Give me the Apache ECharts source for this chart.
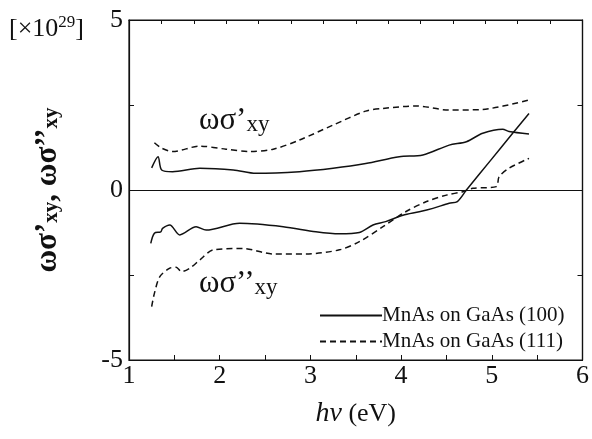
<!DOCTYPE html>
<html>
<head>
<meta charset="utf-8">
<script src="https://cdn.jsdelivr.net/npm/echarts@6/dist/echarts.min.js"></script>
<style>
  html, body { margin: 0; padding: 0; background: #fff; }
  #chart { width: 592px; height: 439px; }
</style>
</head>
<body>
<div id="chart"></div>
<script>
// photon energy (eV) and values (x10^29)
const ePrime100 = [1.25, 1.32, 1.36, 1.48, 1.78, 2.15, 2.40, 2.88, 3.25, 3.61, 3.98, 4.24, 4.53, 4.72, 4.90, 5.12, 5.19, 5.41];
const vPrime100 = [0.65, 0.98, 0.59, 0.54, 0.64, 0.59, 0.49, 0.54, 0.64, 0.78, 0.98, 1.03, 1.32, 1.42, 1.67, 1.79, 1.72, 1.65];

const ePrime111 = [1.28, 1.36, 1.48, 1.78, 2.07, 2.33, 2.59, 2.88, 3.25, 3.61, 3.80, 4.17, 4.53, 4.90, 5.41];
const vPrime111 = [1.39, 1.23, 1.13, 1.29, 1.20, 1.13, 1.20, 1.47, 1.91, 2.32, 2.40, 2.47, 2.35, 2.37, 2.65];

const eDouble100 = [1.24, 1.28, 1.35, 1.37, 1.45, 1.56, 1.74, 1.85, 2.22, 2.70, 3.06, 3.32, 3.54, 3.69, 3.83, 4.02, 4.20, 4.35, 4.53, 4.62, 4.72, 4.98, 5.23, 5.41];
const vDouble100 = [-1.57, -1.27, -1.23, -1.13, -1.03, -1.32, -1.08, -1.18, -0.98, -1.08, -1.23, -1.29, -1.25, -1.03, -0.93, -0.74, -0.64, -0.54, -0.39, -0.34, 0.00, 0.85, 1.67, 2.25];

const eDouble111 = [1.25, 1.28, 1.34, 1.45, 1.52, 1.58, 1.67, 1.78, 1.93, 2.26, 2.59, 2.95, 3.32, 3.54, 3.80, 4.05, 4.28, 4.50, 4.68, 4.79, 5.05, 5.08, 5.19, 5.41];
const vDouble111 = [-3.43, -3.04, -2.55, -2.30, -2.27, -2.40, -2.30, -2.06, -1.76, -1.72, -1.88, -1.88, -1.76, -1.52, -1.08, -0.64, -0.34, -0.15, -0.05, 0.05, 0.10, 0.39, 0.64, 0.93];

const xTickLabels = ['1', '2', '3', '4', '5', '6'];
const yTickLabels = ['-5', '0', '5'];
const sampleNames = ['MnAs on GaAs (100)', 'MnAs on GaAs (111)'];

function zip(xs, ys) {
  return xs.map((x, i) => [x, ys[i]]);
}

const serif = '"Liberation Serif", "DejaVu Serif", serif';
const chart = echarts.init(document.getElementById('chart'));

function curve(name, data, dashed, withZero) {
  const s = {
    name: name,
    type: 'line',
    data: data,
    symbol: 'none',
    smooth: 0.3,
    xAxisIndex: 0,
    yAxisIndex: 0,
    lineStyle: { color: '#111', width: 1.5, type: dashed ? [6, 4] : 'solid' },
    itemStyle: { color: '#111' },
    z: 3
  };
  if (withZero) {
    s.markLine = {
      silent: true,
      symbol: 'none',
      label: { show: false },
      lineStyle: { color: '#111', width: 1, type: 'solid' },
      data: [{ yAxis: 0 }]
    };
  }
  return s;
}

function frameLine() {
  return { show: true, onZero: false, lineStyle: { color: '#111', width: 1.2 } };
}

chart.setOption({
  animation: false,
  backgroundColor: '#fff',
  grid: { left: 129, right: 9, top: 20, bottom: 79, show: true, borderColor: '#111', borderWidth: 1.2, backgroundColor: 'transparent' },
  xAxis: [{
    type: 'value',
    min: 1, max: 6, interval: 0.5,
    position: 'bottom',
    name: '{i|hν}{n| (eV)}',
    nameLocation: 'middle',
    nameGap: 40,
    nameTextStyle: {
      rich: {
        i: { fontFamily: serif, fontStyle: 'italic', fontSize: 28, color: '#111' },
        n: { fontFamily: serif, fontSize: 26, color: '#111' }
      }
    },
    axisLine: frameLine(),
    axisTick: { show: true, inside: true, length: 5, lineStyle: { color: '#111' } },
    axisLabel: {
      fontFamily: serif, fontSize: 26, color: '#111', margin: 3,
      formatter: v => xTickLabels.includes(String(v)) ? String(v) : ''
    },
    splitLine: { show: false }
  }, {
    type: 'value',
    min: 0, max: 14, interval: 1,
    position: 'top',
    axisLine: frameLine(),
    axisTick: { show: true, inside: true, length: 4, lineStyle: { color: '#111' } },
    axisLabel: { show: false },
    splitLine: { show: false }
  }],
  yAxis: [{
    type: 'value',
    min: -5, max: 5, interval: 2.5,
    position: 'left',
    name: '{g|ωσ’}{s|xy}{g|, ωσ’’}{s|xy}',
    nameLocation: 'middle',
    nameRotate: 90,
    nameGap: 66,
    nameTextStyle: {
      rich: {
        g: { fontFamily: serif, fontSize: 31, color: '#111', fontWeight: 'bold' },
        s: { fontFamily: serif, fontSize: 21, color: '#111', fontWeight: 'bold', padding: [9, 0, 0, 0] }
      }
    },
    axisLine: frameLine(),
    axisTick: { show: true, inside: true, length: 5, lineStyle: { color: '#111' } },
    axisLabel: {
      fontFamily: serif, fontSize: 26, color: '#111', margin: 6,
      formatter: v => yTickLabels.includes(String(v)) ? String(v) : ''
    },
    splitLine: { show: false }
  }, {
    type: 'value',
    min: -5, max: 5, interval: 2.5,
    position: 'right',
    axisLine: frameLine(),
    axisTick: { show: true, inside: true, length: 5, lineStyle: { color: '#111' } },
    axisLabel: { show: false },
    splitLine: { show: false }
  }],
  legend: {
    orient: 'vertical',
    left: 314,
    top: 300,
    itemWidth: 62,
    itemHeight: 14,
    itemGap: 5,
    itemStyle: { opacity: 0 },
    data: sampleNames,
    textStyle: { fontFamily: serif, fontSize: 21, color: '#111', padding: [0, 0, 0, -5] }
  },
  graphic: [{
    type: 'text', left: 9, top: 14,
    style: {
      text: '{b|[×10}{p|29}{b|]}',
      rich: {
        b: { fontFamily: serif, fontSize: 26, fill: '#111' },
        p: { fontFamily: serif, fontSize: 17, fill: '#111', padding: [0, 0, 13, 0] }
      }
    }
  }, {
    type: 'text', left: 199, top: 105,
    style: {
      text: '{g|ωσ’}{s|xy}',
      rich: {
        g: { fontFamily: serif, fontSize: 31, fill: '#111' },
        s: { fontFamily: serif, fontSize: 23, fill: '#111', padding: [8, 0, 0, 0] }
      }
    }
  }, {
    type: 'text', left: 199, top: 268,
    style: {
      text: '{g|ωσ’’}{s|xy}',
      rich: {
        g: { fontFamily: serif, fontSize: 31, fill: '#111' },
        s: { fontFamily: serif, fontSize: 23, fill: '#111', padding: [8, 0, 0, 0] }
      }
    }
  }],
  series: [
    curve(sampleNames[0], zip(ePrime100, vPrime100), false, true),
    curve(sampleNames[1], zip(ePrime111, vPrime111), true, false),
    curve(sampleNames[0], zip(eDouble100, vDouble100), false, false),
    curve(sampleNames[1], zip(eDouble111, vDouble111), true, false)
  ]
});
</script>
</body>
</html>
